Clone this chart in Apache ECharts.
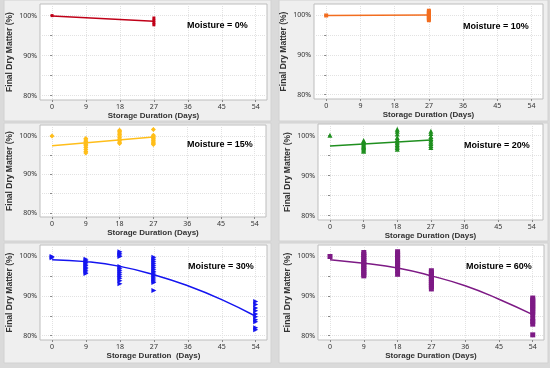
<!DOCTYPE html>
<html><head><meta charset="utf-8">
<script src="https://cdn.jsdelivr.net/npm/echarts@6/dist/echarts.min.js"></script>
<style>html,body{margin:0;padding:0;background:#dadada}#c{width:550px;height:368px}</style>
</head><body><div id="c"></div>
<script>
const xTicks = [0, 9, 18, 27, 36, 45, 54];
const yLabelTicks = [80, 90, 100];
const yGridTicks = [80, 85, 90, 95, 100];
const panelTitles = ['Moisture = 0%', 'Moisture = 10%', 'Moisture = 15%', 'Moisture = 20%', 'Moisture = 30%', 'Moisture = 60%'];
const xAxisTitles = ['Storage Duration (Days)', 'Storage Duration (Days)', 'Storage Duration (Days)', 'Storage Duration (Days)', 'Storage Duration  (Days)', 'Storage Duration (Days)'];
const yAxisTitle = 'Final Dry Matter (%)';

// Moisture 0%
const m0Points = [[0, 100.0], [27, 99.4], [27, 98.8], [27, 98.2], [27, 97.7]];
const m0Fit = [[0, 99.9], [27, 98.6]];
// Moisture 10%
const m10Points = [[0, 100.0], [27, 101.2], [27, 100.9], [27, 100.6], [27, 100.3], [27, 100.0], [27, 99.7], [27, 99.4], [27, 99.1], [27, 98.8]];
const m10Fit = [[0, 100.0], [27, 100.1]];
// Moisture 15%
const m15Points = [[0, 100.0],
  [9, 99.4], [9, 99.0], [9, 98.6], [9, 98.2], [9, 97.8], [9, 97.5], [9, 97.0], [9, 96.5], [9, 96.0], [9, 95.6],
  [18, 101.5], [18, 101.2], [18, 100.8], [18, 100.4], [18, 100.0], [18, 99.6], [18, 99.2], [18, 98.8], [18, 98.4], [18, 98.1],
  [27, 101.7], [27, 100.2], [27, 99.9], [27, 99.6], [27, 99.3], [27, 99.0], [27, 98.7], [27, 98.4], [27, 98.1], [27, 97.8]];
const m15Fit = [[0, 97.5], [27, 99.8]];
// Moisture 20%
const m20Points = [[0, 100.1],
  [9, 98.8], [9, 98.5], [9, 98.2], [9, 97.9], [9, 97.6], [9, 97.3], [9, 97.0], [9, 96.7], [9, 96.4], [9, 96.1],
  [18, 101.6], [18, 101.1], [18, 100.4], [18, 99.5], [18, 99.0], [18, 98.6], [18, 98.2], [18, 97.8], [18, 97.4], [18, 97.0], [18, 96.6],
  [27, 101.1], [27, 100.5], [27, 99.8], [27, 99.3], [27, 98.9], [27, 98.4], [27, 98.0], [27, 97.5], [27, 97.0]];
const m20Fit = [[0, 97.4], [27, 98.9]];
// Moisture 30%
const m30Points = [[0, 100.0], [0, 99.7],
  [9, 99.3], [9, 98.9], [9, 98.5], [9, 98.1], [9, 97.7], [9, 97.3], [9, 96.9], [9, 96.5], [9, 96.1], [9, 95.7],
  [18, 101.2], [18, 100.8], [18, 100.4], [18, 100.0], [18, 97.5], [18, 97.0], [18, 96.5], [18, 96.0], [18, 95.5], [18, 95.0], [18, 94.5], [18, 93.9], [18, 93.1],
  [27, 99.8], [27, 99.3], [27, 98.8], [27, 98.3], [27, 97.8], [27, 97.3], [27, 96.8], [27, 96.3], [27, 95.8], [27, 95.3], [27, 94.8], [27, 94.3], [27, 93.8], [27, 93.4], [27, 91.4],
  [54, 88.6], [54, 87.9], [54, 87.0], [54, 86.3], [54, 85.5], [54, 84.8], [54, 84.0], [54, 83.5], [54, 82.0], [54, 81.5]];
const m30Fit = [[0, 99.2], [9, 98.7], [18, 97.5], [27, 95.4], [36, 92.6], [45, 89.1], [54, 84.9]];
// Moisture 60%
const m60Points = [[0, 100.0],
  [9, 101.0], [9, 100.5], [9, 100.0], [9, 99.5], [9, 99.0], [9, 98.5], [9, 98.0], [9, 97.5], [9, 97.0], [9, 96.5], [9, 96.0], [9, 95.5], [9, 95.1],
  [18, 101.2], [18, 100.7], [18, 100.2], [18, 99.7], [18, 99.2], [18, 98.7], [18, 98.2], [18, 97.7], [18, 97.2], [18, 96.5], [18, 95.5],
  [27, 96.4], [27, 95.9], [27, 95.4], [27, 94.9], [27, 94.4], [27, 93.9], [27, 93.4], [27, 92.9], [27, 92.4], [27, 91.8],
  [54, 89.5], [54, 89.0], [54, 88.5], [54, 88.0], [54, 87.5], [54, 87.0], [54, 86.5], [54, 85.9], [54, 85.3], [54, 84.2], [54, 83.6], [54, 82.9], [54, 80.2]];
const m60Fit = [[0, 99.2], [9, 98.3], [18, 97.1], [27, 95.1], [36, 92.6], [45, 89.2], [54, 85.3]];

const panels = [
  {points: m0Points, fit: m0Fit, color: '#c00018', symbol: 'rect', size: 3, rotate: 0, smooth: false,
   grid: {left: 40, top: 4, width: 227, height: 96}, box: [4, 0, 267, 121], label: [187, 26]},
  {points: m10Points, fit: m10Fit, color: '#f26d1f', symbol: 'rect', size: 4, rotate: 0, smooth: false,
   grid: {left: 314, top: 4, width: 229, height: 95}, box: [279, 0, 269, 121], label: [463, 27]},
  {points: m15Points, fit: m15Fit, color: '#ffbe1a', symbol: 'diamond', size: 5, rotate: 0, smooth: false,
   grid: {left: 40, top: 125, width: 226, height: 92}, box: [4, 123, 267, 118], label: [187, 145]},
  {points: m20Points, fit: m20Fit, color: '#1f8f1f', symbol: 'triangle', size: 5, rotate: 0, smooth: false,
   grid: {left: 318, top: 124, width: 225, height: 96}, box: [279, 123, 269, 118], label: [464, 146]},
  {points: m30Points, fit: m30Fit, color: '#1414f0', symbol: 'triangle', size: 5, rotate: -90, smooth: true,
   grid: {left: 40, top: 245, width: 227, height: 95}, box: [4, 243, 267, 120], label: [188, 267]},
  {points: m60Points, fit: m60Fit, color: '#7d1a85', symbol: 'rect', size: 5, rotate: 0, smooth: true,
   grid: {left: 318, top: 245, width: 226, height: 95}, box: [279, 243, 269, 120], label: [466, 267]}
];

const chart = echarts.init(document.getElementById('c'), null, {renderer: 'canvas'});
const grids = [], xAxes = [], yAxes = [], series = [], graphics = [];
panels.forEach((p, i) => {
  graphics.push({type: 'rect', z: -100, shape: {x: p.box[0], y: p.box[1], width: p.box[2], height: p.box[3]},
    style: {fill: '#efefef', stroke: '#d2d2d2', lineWidth: 1}});
  graphics.push({type: 'text', z: 100, x: p.label[0], y: p.label[1],
    style: {text: panelTitles[i], fill: '#000', font: 'bold 9px "Liberation Sans", Arial, sans-serif', verticalAlign: 'middle'}});
  grids.push(Object.assign({show: true, backgroundColor: '#ffffff', borderColor: '#bdbdbd', borderWidth: 1}, p.grid));
  xAxes.push({
    type: 'value', gridIndex: i, min: -3.2, max: 57,
    axisLine: {show: false},
    axisTick: {show: true, customValues: xTicks, length: 2, lineStyle: {color: '#888'}},
    axisLabel: {customValues: xTicks, fontSize: 7, color: '#333', margin: 3, fontFamily: '"Noto Sans", sans-serif'},
    splitLine: {show: true, lineStyle: {color: '#e2e2e2', type: 'dotted'}},
    name: xAxisTitles[i], nameLocation: 'middle', nameGap: 12,
    nameTextStyle: {fontSize: 8, fontWeight: 'bold', color: '#333', fontFamily: '"Liberation Sans", Arial, sans-serif'}
  });
  yAxes.push({
    type: 'value', gridIndex: i, min: 78.9, max: 102.9,
    axisLine: {show: false},
    axisTick: {show: true, customValues: yGridTicks, length: 2, lineStyle: {color: '#888'}},
    axisLabel: {customValues: yLabelTicks, fontSize: 7, color: '#333', margin: 3, formatter: '{value}%', fontFamily: '"Noto Sans", sans-serif'},
    splitLine: {show: true, lineStyle: {color: '#e2e2e2', type: 'dotted'}},
    name: yAxisTitle, nameLocation: 'middle', nameGap: 26, nameRotate: 90,
    nameTextStyle: {fontSize: 8.5, fontWeight: 'bold', color: '#333', fontFamily: '"Liberation Sans", Arial, sans-serif'}
  });
  series.push({type: 'line', xAxisIndex: i, yAxisIndex: i, data: p.fit, showSymbol: false, smooth: p.smooth,
    lineStyle: {color: p.color, width: 1.5}, z: 2, silent: true});
  series.push({type: 'scatter', xAxisIndex: i, yAxisIndex: i, data: p.points, symbol: p.symbol,
    symbolSize: p.size, symbolRotate: p.rotate, itemStyle: {color: p.color, opacity: 1}, z: 3, silent: true});
});
chart.setOption({animation: false, backgroundColor: '#dadada', grid: grids, xAxis: xAxes, yAxis: yAxes, series: series, graphic: graphics});
</script></body></html>
